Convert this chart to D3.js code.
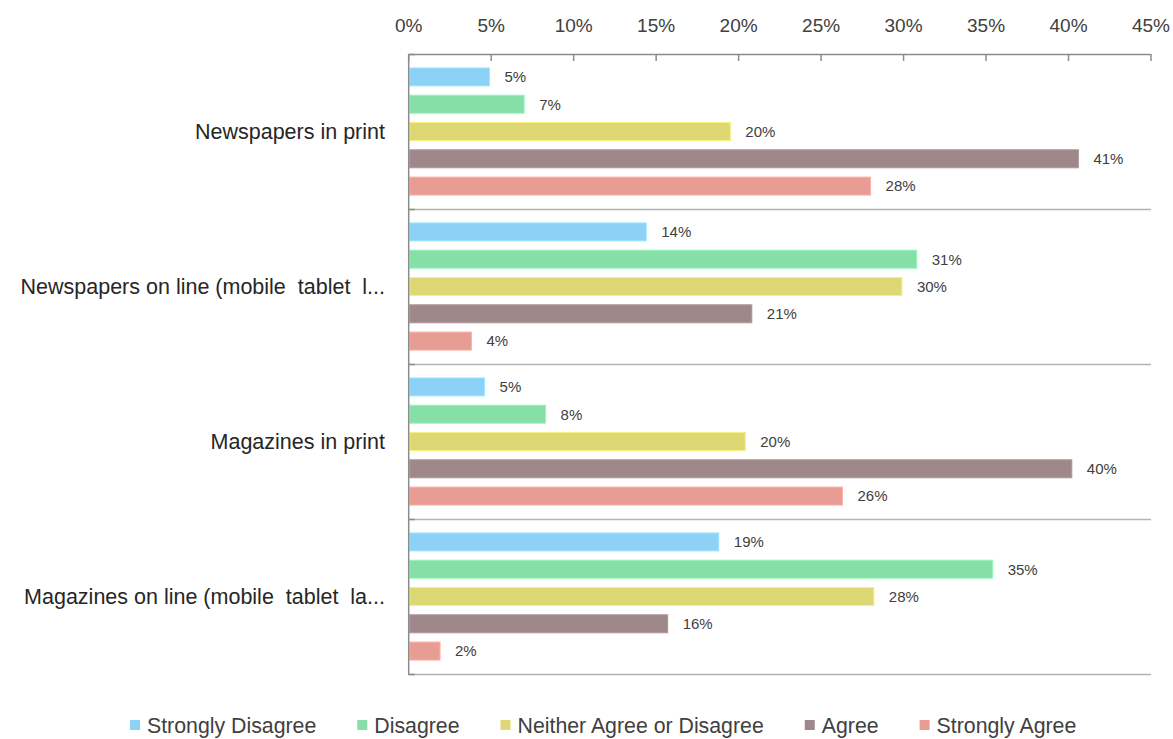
<!DOCTYPE html>
<html>
<head>
<meta charset="utf-8">
<script src="https://cdn.jsdelivr.net/npm/d3@7"></script>
<style>
  html, body { margin: 0; padding: 0; background: #fff; }
  svg { display: block; }
  text { font-family: "Liberation Sans", Arial, sans-serif; fill: #404040; white-space: pre; }
</style>
</head>
<body>
<svg id="chart" width="1173" height="739"></svg>
<script>
const categories = ["Newspapers in print", "Newspapers on line (mobile  tablet  l...", "Magazines in print", "Magazines on line (mobile  tablet  la..."];
const seriesNames = ["Strongly Disagree", "Disagree", "Neither Agree or Disagree", "Agree", "Strongly Agree"];
const stronglyDisagree = [4.9, 14.4, 4.6, 18.8];
const disagree = [7.0, 30.8, 8.3, 35.4];
const neither = [19.5, 29.9, 20.4, 28.2];
const agree = [40.6, 20.8, 40.2, 15.7];
const stronglyAgree = [28.0, 3.8, 26.3, 1.9];
const xTicks = [0, 5, 10, 15, 20, 25, 30, 35, 40, 45];
const colors = ["#8DD1F7", "#86DFA7", "#DDD873", "#9E8889", "#E89D94"];

const seriesValues = [stronglyDisagree, disagree, neither, agree, stronglyAgree];

const svg = d3.select("#chart");
const pLeft = 408.7, pRight = 1151, pTop = 54, pBottom = 674;

const x = d3.scaleLinear().domain([0, 45]).range([pLeft, pRight]);
const y = d3.scaleBand().domain(categories).range([pTop, pBottom]).padding(0);
const yInner = d3.scaleBand().domain(seriesNames).range([0, y.bandwidth()])
  .paddingInner(0.34).paddingOuter(0.51);

// separators between categories
const seps = categories.map(c => y(c) + y.bandwidth());
svg.append("g").selectAll("line").data(seps).join("line")
  .attr("x1", pLeft).attr("x2", pRight)
  .attr("y1", d => Math.round(d) + 0.5).attr("y2", d => Math.round(d) + 0.5)
  .attr("stroke", "#b3b3b3").attr("stroke-width", 1.5);

// small ticks on category axis
svg.append("g").selectAll("line").data([pTop].concat(seps)).join("line")
  .attr("x1", pLeft).attr("x2", pLeft + 6)
  .attr("y1", d => Math.round(d) + 0.5).attr("y2", d => Math.round(d) + 0.5)
  .attr("stroke", "#8c8c8c").attr("stroke-width", 1.5);

// bars
const barData = [];
categories.forEach((c, ci) => {
  seriesNames.forEach((s, si) => {
    barData.push({ cat: c, series: s, si: si, value: seriesValues[si][ci] });
  });
});

svg.append("g").selectAll("rect").data(barData).join("rect")
  .attr("x", x(0) + 1)
  .attr("y", d => y(d.cat) + yInner(d.series))
  .attr("width", d => x(d.value) - x(0) - 1)
  .attr("height", yInner.bandwidth())
  .attr("fill", d => colors[d.si])
  .attr("stroke", d => d3.color(colors[d.si]).brighter(0.3))
  .attr("stroke-width", 1);

svg.append("g").selectAll("text").data(barData).join("text")
  .attr("x", d => x(d.value) + 15)
  .attr("y", d => y(d.cat) + yInner(d.series) + yInner.bandwidth() / 2)
  .attr("dy", "0.36em")
  .style("font-size", "15px")
  .text(d => Math.round(d.value) + "%");

// top axis
const xAxis = svg.append("g");
xAxis.append("line")
  .attr("x1", pLeft).attr("x2", pRight).attr("y1", pTop + 0.5).attr("y2", pTop + 0.5)
  .attr("stroke", "#8c8c8c").attr("stroke-width", 1.5);
xAxis.selectAll("line.tick").data(xTicks).join("line").attr("class", "tick")
  .attr("x1", d => x(d)).attr("x2", d => x(d))
  .attr("y1", pTop).attr("y2", pTop + 7)
  .attr("stroke", "#8c8c8c").attr("stroke-width", 1.5);
xAxis.selectAll("text").data(xTicks).join("text")
  .attr("x", d => x(d)).attr("y", 25).attr("dy", "0.36em")
  .attr("text-anchor", "middle")
  .style("font-size", "19px")
  .text(d => d + "%");

// left axis line
svg.append("line")
  .attr("x1", pLeft).attr("x2", pLeft).attr("y1", pTop).attr("y2", pBottom + 1)
  .attr("stroke", "#8c8c8c").attr("stroke-width", 1.5);

// category labels
svg.append("g").selectAll("text").data(categories).join("text")
  .attr("x", 385)
  .attr("y", d => y(d) + y.bandwidth() / 2)
  .attr("dy", "0.36em")
  .attr("text-anchor", "end")
  .attr("xml:space", "preserve")
  .style("font-size", "21.5px")
  .style("fill", "#262626")
  .text(d => d);

// legend
const legend = svg.append("g");
let lx = 130;
seriesNames.forEach((s, i) => {
  legend.append("rect").attr("x", lx).attr("y", 720).attr("width", 10).attr("height", 10)
    .attr("fill", colors[i]);
  const t = legend.append("text").attr("x", lx + 17).attr("y", 725).attr("dy", "0.36em")
    .style("font-size", "21.3px").text(s);
  lx += 17 + t.node().getComputedTextLength() + 41;
});
</script>
</body>
</html>
